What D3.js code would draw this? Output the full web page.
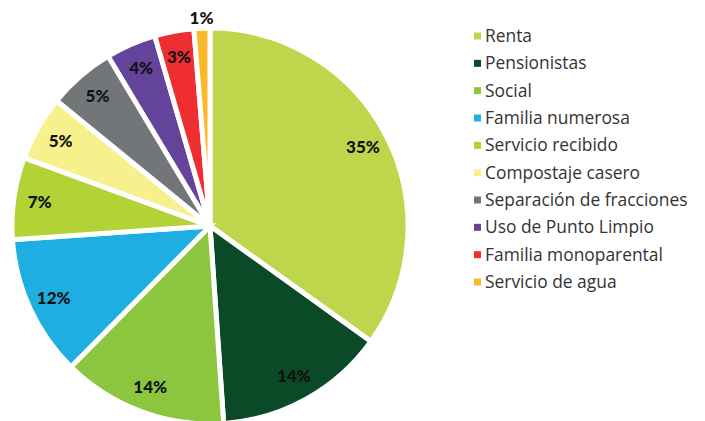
<!DOCTYPE html>
<html><head><meta charset="utf-8">
<script src="https://cdn.jsdelivr.net/npm/d3@7"></script>
<style>body{margin:0;background:#fff}</style></head>
<body><svg id="c" width="705" height="421"></svg>
<script>
const categories = ["Renta","Pensionistas","Social","Familia numerosa","Servicio recibido","Compostaje casero","Separación de fracciones","Uso de Punto Limpio","Familia monoparental","Servicio de agua"];
const values = [34.9,14.0,13.5,11.5,6.7,5.3,5.5,4.1,3.2,1.3];
const labels = ["35%","14%","14%","12%","7%","5%","5%","4%","3%","1%"];
const colors = ["#bdd64b","#0b4a27","#8cc63f","#1eaee2","#b2d235","#f6f18d","#737679","#63449a","#ee2e31","#fbb929"];

const svg = d3.select("#c");
const cx = 210, cy = 226, R = 198;
const g = svg.append("g").attr("transform", `translate(${cx},${cy})`);
const pie = d3.pie().sort(null).value(d => d.v);
const data = pie(categories.map((c,i)=>({c, v: values[i], col: colors[i], lab: labels[i]})));
const arc = d3.arc().innerRadius(0).outerRadius(R);
g.selectAll("path").data(data).join("path")
  .attr("d", arc).attr("fill", d => d.data.col)
  .attr("stroke", "#fff").attr("stroke-width", 5).attr("stroke-linejoin","miter");
const lab = d3.arc().innerRadius(172).outerRadius(172);
const labOut = d3.arc().innerRadius(208).outerRadius(208);
g.selectAll("text").data(data).join("text")
  .attr("transform", d => `translate(${(d.data.v < 2 ? labOut : lab).centroid(d)})`)
  .attr("text-anchor","middle").attr("dy","0.35em")
  .attr("font-family","Lato, 'DejaVu Sans', sans-serif").attr("font-weight","900")
  .attr("font-size",17).attr("fill","#111")
  .text(d => d.data.lab);

const leg = svg.append("g").attr("transform","translate(474,36)");
const y = d3.scalePoint().domain(categories).range([0, 246]);
const items = leg.selectAll("g").data(categories).join("g")
  .attr("transform", d => `translate(0,${y(d)})`);
items.append("rect").attr("x",0).attr("y",-3.5).attr("width",7).attr("height",7)
  .attr("fill",(d,i)=>colors[i]);
items.append("text").attr("x",11).attr("dy","0.35em")
  .attr("font-family","'Open Sans', Lato, sans-serif").attr("font-size",17.4)
  .attr("fill","#333").text(d=>d);
</script></body></html>
